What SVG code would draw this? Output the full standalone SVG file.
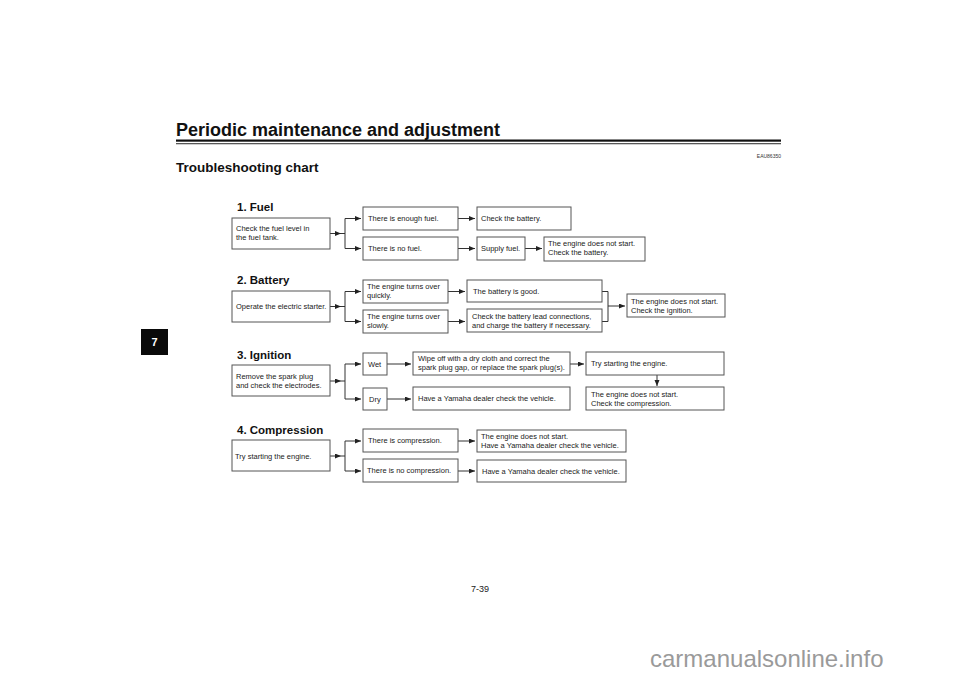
<svg xmlns="http://www.w3.org/2000/svg" width="960" height="679" viewBox="0 0 960 679">
<defs>
<marker id="ah" markerUnits="userSpaceOnUse" markerWidth="7" markerHeight="6" refX="6" refY="2.5" orient="auto">
<path d="M0,0 L6,2.5 L0,5 z" fill="#222"/>
</marker>
<style>
.box{fill:#fff;stroke:#555;stroke-width:1}
.t{font-family:"Liberation Sans",Arial,sans-serif;font-size:7.5px;fill:#222}
.h{font-family:"Liberation Sans",Arial,sans-serif;font-size:11.5px;font-weight:bold;fill:#111}
.ln{fill:none;stroke:#333;stroke-width:1}
.ar{fill:none;stroke:#333;stroke-width:1;marker-end:url(#ah)}
</style>
</defs>
<rect width="960" height="679" fill="#fff"/>
<g id="header">
<text x="176" y="136" font-family="Liberation Sans,Arial,sans-serif" font-size="18" font-weight="bold" fill="#111">Periodic maintenance and adjustment</text>
<rect x="176" y="139.5" width="605" height="2.2" fill="#111"/>
<rect x="176" y="143.3" width="605" height="0.9" fill="#111"/>
<text x="781" y="158" text-anchor="end" font-family="Liberation Sans,Arial,sans-serif" font-size="5" fill="#333">EAU86350</text>
<text x="176" y="172" font-family="Liberation Sans,Arial,sans-serif" font-size="13.5" font-weight="bold" fill="#111">Troubleshooting chart</text>
</g>
<g id="tab">
<rect x="141" y="329" width="27" height="26" fill="#0a0a0a"/>
<text x="154.5" y="346" text-anchor="middle" font-family="Liberation Sans,Arial,sans-serif" font-size="11" font-weight="bold" fill="#fff">7</text>
</g>
<g id="headings">
<text class="h" x="237" y="211">1. Fuel</text>
<text class="h" x="237" y="284">2. Battery</text>
<text class="h" x="237" y="359">3. Ignition</text>
<text class="h" x="237" y="434">4. Compression</text>
</g>
<g id="connectors">
<line class="ar" x1="330" y1="233.5" x2="341" y2="233.5"/>
<line class="ln" x1="341" y1="233.5" x2="345" y2="233.5"/>
<path class="ln" d="M345,218.5 V248.5"/>
<line class="ar" x1="345" y1="218.5" x2="361" y2="218.5"/>
<line class="ar" x1="345" y1="248.5" x2="361" y2="248.5"/>
<line class="ar" x1="458" y1="218.5" x2="475" y2="218.5"/>
<line class="ar" x1="458" y1="248.5" x2="475" y2="248.5"/>
<line class="ar" x1="525" y1="248.5" x2="542" y2="248.5"/>
<line class="ar" x1="330" y1="306.5" x2="341" y2="306.5"/>
<line class="ln" x1="341" y1="306.5" x2="345" y2="306.5"/>
<path class="ln" d="M345,291.5 V321.5"/>
<line class="ar" x1="345" y1="291.5" x2="361" y2="291.5"/>
<line class="ar" x1="345" y1="321.5" x2="361" y2="321.5"/>
<line class="ar" x1="448" y1="291.5" x2="465" y2="291.5"/>
<line class="ar" x1="448" y1="321.5" x2="465" y2="321.5"/>
<path class="ln" d="M602,291.5 H608 V321.5 H602"/>
<line class="ar" x1="608" y1="306" x2="625" y2="306"/>
<line class="ar" x1="330" y1="381" x2="341" y2="381"/>
<line class="ln" x1="341" y1="381" x2="345" y2="381"/>
<path class="ln" d="M345,364 V399"/>
<line class="ar" x1="345" y1="364" x2="361" y2="364"/>
<line class="ar" x1="345" y1="399" x2="361" y2="399"/>
<line class="ar" x1="387" y1="364" x2="411" y2="364"/>
<line class="ar" x1="387" y1="399" x2="411" y2="399"/>
<line class="ar" x1="570" y1="364" x2="584" y2="364"/>
<line class="ar" x1="657" y1="375" x2="657" y2="386"/>
<line class="ar" x1="330" y1="456" x2="341" y2="456"/>
<line class="ln" x1="341" y1="456" x2="345" y2="456"/>
<path class="ln" d="M345,441 V471"/>
<line class="ar" x1="345" y1="441" x2="361" y2="441"/>
<line class="ar" x1="345" y1="471" x2="361" y2="471"/>
<line class="ar" x1="458" y1="441" x2="475" y2="441"/>
<line class="ar" x1="458" y1="471" x2="475" y2="471"/>
</g>
<g id="fuel-check"><rect class="box" x="232" y="218" width="98" height="31"/><text class="t" x="236" y="231">Check the fuel level in</text><text class="t" x="236" y="240">the fuel tank.</text></g>
<g id="fuel-enough"><rect class="box" x="363" y="207" width="95" height="23"/><text class="t" x="368" y="221">There is enough fuel.</text></g>
<g id="fuel-none"><rect class="box" x="363" y="237" width="95" height="23"/><text class="t" x="368" y="251">There is no fuel.</text></g>
<g id="fuel-checkbatt"><rect class="box" x="477" y="207" width="94" height="23"/><text class="t" x="481" y="221">Check the battery.</text></g>
<g id="fuel-supply"><rect class="box" x="477" y="237" width="48" height="23"/><text class="t" x="481" y="251">Supply fuel.</text></g>
<g id="fuel-nostart"><rect class="box" x="544" y="237" width="101" height="24"/><text class="t" x="548" y="246">The engine does not start.</text><text class="t" x="548" y="255">Check the battery.</text></g>
<g id="batt-operate"><rect class="box" x="232" y="291" width="98" height="31"/><text class="t" x="236" y="309">Operate the electric starter.</text></g>
<g id="batt-quick"><rect class="box" x="363" y="280" width="85" height="23"/><text class="t" x="367" y="289">The engine turns over</text><text class="t" x="367" y="298">quickly.</text></g>
<g id="batt-slow"><rect class="box" x="363" y="310" width="85" height="23"/><text class="t" x="367" y="319">The engine turns over</text><text class="t" x="367" y="328">slowly.</text></g>
<g id="batt-good"><rect class="box" x="467" y="280" width="135" height="22"/><text class="t" x="473" y="294">The battery is good.</text></g>
<g id="batt-lead"><rect class="box" x="467" y="309" width="135" height="23"/><text class="t" x="472" y="318.5">Check the battery lead connections,</text><text class="t" x="472" y="327.5">and charge the battery if necessary.</text></g>
<g id="batt-nostart"><rect class="box" x="627" y="294" width="98" height="23"/><text class="t" x="631" y="303.5">The engine does not start.</text><text class="t" x="631" y="312.5">Check the ignition.</text></g>
<g id="ign-remove"><rect class="box" x="232" y="365" width="98" height="31"/><text class="t" x="236" y="378.5">Remove the spark plug</text><text class="t" x="236" y="387.5">and check the electrodes.</text></g>
<g id="ign-wet"><rect class="box" x="363" y="353" width="24" height="22"/><text class="t" x="368" y="367">Wet</text></g>
<g id="ign-dry"><rect class="box" x="363" y="388" width="24" height="22"/><text class="t" x="369" y="402">Dry</text></g>
<g id="ign-wipe"><rect class="box" x="413" y="352" width="157" height="23"/><text class="t" x="418" y="361">Wipe off with a dry cloth and correct the</text><text class="t" x="418" y="370">spark plug gap, or replace the spark plug(s).</text></g>
<g id="ign-dealer"><rect class="box" x="413" y="387" width="157" height="23"/><text class="t" x="418" y="401">Have a Yamaha dealer check the vehicle.</text></g>
<g id="ign-try"><rect class="box" x="586" y="352" width="138" height="23"/><text class="t" x="591" y="366">Try starting the engine.</text></g>
<g id="ign-nostart"><rect class="box" x="586" y="387" width="138" height="23"/><text class="t" x="591" y="396.5">The engine does not start.</text><text class="t" x="591" y="405.5">Check the compression.</text></g>
<g id="comp-try"><rect class="box" x="232" y="440" width="98" height="31"/><text class="t" x="235" y="458.5">Try starting the engine.</text></g>
<g id="comp-yes"><rect class="box" x="363" y="429" width="95" height="23"/><text class="t" x="368" y="443">There is compression.</text></g>
<g id="comp-no"><rect class="box" x="363" y="459" width="95" height="23"/><text class="t" x="367" y="473">There is no compression.</text></g>
<g id="comp-nostart"><rect class="box" x="477" y="430" width="149" height="22"/><text class="t" x="481" y="439">The engine does not start.</text><text class="t" x="481" y="448">Have a Yamaha dealer check the vehicle.</text></g>
<g id="comp-dealer"><rect class="box" x="477" y="460" width="149" height="22"/><text class="t" x="482" y="474">Have a Yamaha dealer check the vehicle.</text></g>
<g id="footer">
<text x="480" y="592" text-anchor="middle" font-family="Liberation Sans,Arial,sans-serif" font-size="9" fill="#222">7-39</text>
<text x="650" y="667" font-family="Liberation Sans,Arial,sans-serif" font-size="24" fill="#9a9a9a">carmanualsonline.info</text>
</g>
</svg>
